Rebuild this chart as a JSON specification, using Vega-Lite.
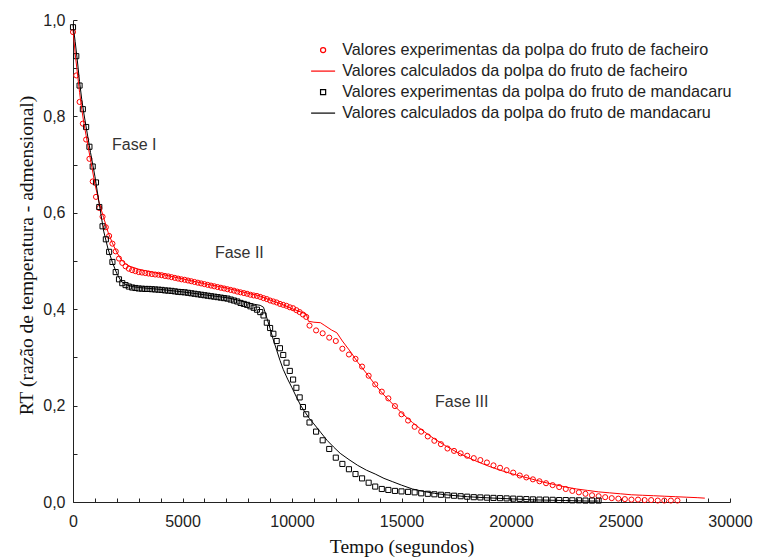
{
  "$schema": "https://vega.github.io/schema/vega-lite/v6.json",
  "width": 657,
  "height": 482,
  "autosize": {"type": "none"},
  "padding": {"left": 73, "top": 20, "right": 27, "bottom": 57},
  "background": "white",
  "config": {
    "view": {"stroke": null},
    "axis": {
      "grid": false,
      "domainColor": "#222",
      "domainWidth": 1,
      "tickColor": "#222",
      "tickSize": -4,
      "tickWidth": 1,
      "labelFont": "Liberation Sans",
      "labelFontSize": 16,
      "labelColor": "#222",
      "labelOverlap": false,
      "labelFlush": false,
      "titleFont": "Liberation Serif",
      "titleFontSize": 19.5,
      "titleFontWeight": "normal",
      "titleColor": "#111"
    },
    "legend": {
      "labelFont": "Liberation Sans",
      "labelFontSize": 16.2,
      "labelColor": "#222",
      "labelLimit": 0
    }
  },
  "datasets": {
    "curvas": [
      {"s": "fe", "t": 0, "rt": 0.975}, {"s": "fe", "t": 150, "rt": 0.885}, {"s": "fe", "t": 300, "rt": 0.83}, {"s": "fe", "t": 450, "rt": 0.785},
      {"s": "fe", "t": 600, "rt": 0.752}, {"s": "fe", "t": 750, "rt": 0.712}, {"s": "fe", "t": 900, "rt": 0.665}, {"s": "fe", "t": 1050, "rt": 0.633},
      {"s": "fe", "t": 1200, "rt": 0.61}, {"s": "fe", "t": 1350, "rt": 0.592}, {"s": "fe", "t": 1500, "rt": 0.57}, {"s": "fe", "t": 1650, "rt": 0.552},
      {"s": "fe", "t": 1800, "rt": 0.536}, {"s": "fe", "t": 1950, "rt": 0.52}, {"s": "fe", "t": 2100, "rt": 0.505}, {"s": "fe", "t": 2250, "rt": 0.496},
      {"s": "fe", "t": 2400, "rt": 0.489}, {"s": "fe", "t": 2550, "rt": 0.484}, {"s": "fe", "t": 2700, "rt": 0.481}, {"s": "fe", "t": 2850, "rt": 0.479},
      {"s": "fe", "t": 3000, "rt": 0.477}, {"s": "fe", "t": 3150, "rt": 0.476}, {"s": "fe", "t": 3300, "rt": 0.475}, {"s": "fe", "t": 3450, "rt": 0.474},
      {"s": "fe", "t": 3600, "rt": 0.473}, {"s": "fe", "t": 3750, "rt": 0.472}, {"s": "fe", "t": 3900, "rt": 0.4715}, {"s": "fe", "t": 4050, "rt": 0.4705},
      {"s": "fe", "t": 4200, "rt": 0.469}, {"s": "fe", "t": 4350, "rt": 0.468}, {"s": "fe", "t": 4500, "rt": 0.4665}, {"s": "fe", "t": 4650, "rt": 0.465},
      {"s": "fe", "t": 4800, "rt": 0.4635}, {"s": "fe", "t": 4950, "rt": 0.462}, {"s": "fe", "t": 5100, "rt": 0.461}, {"s": "fe", "t": 5250, "rt": 0.4595},
      {"s": "fe", "t": 5400, "rt": 0.458}, {"s": "fe", "t": 5550, "rt": 0.4565}, {"s": "fe", "t": 5700, "rt": 0.455}, {"s": "fe", "t": 5850, "rt": 0.4535},
      {"s": "fe", "t": 6000, "rt": 0.452}, {"s": "fe", "t": 6150, "rt": 0.4505}, {"s": "fe", "t": 6300, "rt": 0.449}, {"s": "fe", "t": 6450, "rt": 0.4475},
      {"s": "fe", "t": 6600, "rt": 0.446}, {"s": "fe", "t": 6750, "rt": 0.4445}, {"s": "fe", "t": 6900, "rt": 0.443}, {"s": "fe", "t": 7050, "rt": 0.4415},
      {"s": "fe", "t": 7200, "rt": 0.44}, {"s": "fe", "t": 7350, "rt": 0.4385}, {"s": "fe", "t": 7500, "rt": 0.4365}, {"s": "fe", "t": 7650, "rt": 0.435},
      {"s": "fe", "t": 7800, "rt": 0.4335}, {"s": "fe", "t": 7950, "rt": 0.432}, {"s": "fe", "t": 8100, "rt": 0.43}, {"s": "fe", "t": 8250, "rt": 0.4285},
      {"s": "fe", "t": 8400, "rt": 0.4275}, {"s": "fe", "t": 8550, "rt": 0.4255}, {"s": "fe", "t": 8700, "rt": 0.423}, {"s": "fe", "t": 8850, "rt": 0.421},
      {"s": "fe", "t": 9000, "rt": 0.418}, {"s": "fe", "t": 9150, "rt": 0.416}, {"s": "fe", "t": 9300, "rt": 0.414}, {"s": "fe", "t": 9450, "rt": 0.411},
      {"s": "fe", "t": 9600, "rt": 0.409}, {"s": "fe", "t": 9750, "rt": 0.407}, {"s": "fe", "t": 9900, "rt": 0.404}, {"s": "fe", "t": 10050, "rt": 0.402},
      {"s": "fe", "t": 10200, "rt": 0.398}, {"s": "fe", "t": 10350, "rt": 0.394}, {"s": "fe", "t": 10500, "rt": 0.389}, {"s": "fe", "t": 10650, "rt": 0.384},
      {"s": "fe", "t": 10800, "rt": 0.366}, {"s": "fe", "t": 11100, "rt": 0.356}, {"s": "fe", "t": 11400, "rt": 0.35}, {"s": "fe", "t": 11700, "rt": 0.341},
      {"s": "fe", "t": 12000, "rt": 0.334}, {"s": "fe", "t": 12300, "rt": 0.318}, {"s": "fe", "t": 12600, "rt": 0.306}, {"s": "fe", "t": 12900, "rt": 0.297},
      {"s": "fe", "t": 13200, "rt": 0.281}, {"s": "fe", "t": 13500, "rt": 0.262}, {"s": "fe", "t": 13800, "rt": 0.244}, {"s": "fe", "t": 14100, "rt": 0.229},
      {"s": "fe", "t": 14400, "rt": 0.215}, {"s": "fe", "t": 14700, "rt": 0.199}, {"s": "fe", "t": 15000, "rt": 0.182}, {"s": "fe", "t": 15300, "rt": 0.169},
      {"s": "fe", "t": 15600, "rt": 0.156}, {"s": "fe", "t": 15900, "rt": 0.146}, {"s": "fe", "t": 16200, "rt": 0.136}, {"s": "fe", "t": 16500, "rt": 0.127},
      {"s": "fe", "t": 16800, "rt": 0.12}, {"s": "fe", "t": 17100, "rt": 0.111}, {"s": "fe", "t": 17400, "rt": 0.106}, {"s": "fe", "t": 17700, "rt": 0.101},
      {"s": "fe", "t": 18000, "rt": 0.096}, {"s": "fe", "t": 18300, "rt": 0.091}, {"s": "fe", "t": 18600, "rt": 0.087}, {"s": "fe", "t": 18900, "rt": 0.082},
      {"s": "fe", "t": 19200, "rt": 0.076}, {"s": "fe", "t": 19500, "rt": 0.071}, {"s": "fe", "t": 19800, "rt": 0.066}, {"s": "fe", "t": 20100, "rt": 0.061},
      {"s": "fe", "t": 20400, "rt": 0.055}, {"s": "fe", "t": 20700, "rt": 0.051}, {"s": "fe", "t": 21000, "rt": 0.047}, {"s": "fe", "t": 21300, "rt": 0.043},
      {"s": "fe", "t": 21600, "rt": 0.039}, {"s": "fe", "t": 21900, "rt": 0.035}, {"s": "fe", "t": 22200, "rt": 0.031}, {"s": "fe", "t": 22500, "rt": 0.027},
      {"s": "fe", "t": 22800, "rt": 0.023}, {"s": "fe", "t": 23100, "rt": 0.02}, {"s": "fe", "t": 23400, "rt": 0.017}, {"s": "fe", "t": 23700, "rt": 0.014},
      {"s": "fe", "t": 24000, "rt": 0.012}, {"s": "fe", "t": 24300, "rt": 0.01}, {"s": "fe", "t": 24600, "rt": 0.008}, {"s": "fe", "t": 24900, "rt": 0.007},
      {"s": "fe", "t": 25200, "rt": 0.006}, {"s": "fe", "t": 25500, "rt": 0.005}, {"s": "fe", "t": 25800, "rt": 0.005}, {"s": "fe", "t": 26100, "rt": 0.004},
      {"s": "fe", "t": 26400, "rt": 0.004}, {"s": "fe", "t": 26700, "rt": 0.003}, {"s": "fe", "t": 27000, "rt": 0.003}, {"s": "fe", "t": 27300, "rt": 0.003},
      {"s": "fe", "t": 27600, "rt": 0.003},

      {"s": "fc", "t": 0, "rt": 0.98}, {"s": "fc", "t": 100, "rt": 0.93}, {"s": "fc", "t": 200, "rt": 0.89}, {"s": "fc", "t": 300, "rt": 0.85},
      {"s": "fc", "t": 400, "rt": 0.815}, {"s": "fc", "t": 500, "rt": 0.785}, {"s": "fc", "t": 600, "rt": 0.76}, {"s": "fc", "t": 800, "rt": 0.71},
      {"s": "fc", "t": 1000, "rt": 0.66}, {"s": "fc", "t": 1200, "rt": 0.62}, {"s": "fc", "t": 1400, "rt": 0.59}, {"s": "fc", "t": 1600, "rt": 0.56},
      {"s": "fc", "t": 1800, "rt": 0.537}, {"s": "fc", "t": 2000, "rt": 0.518}, {"s": "fc", "t": 2200, "rt": 0.503}, {"s": "fc", "t": 2400, "rt": 0.494},
      {"s": "fc", "t": 2600, "rt": 0.489}, {"s": "fc", "t": 3000, "rt": 0.483}, {"s": "fc", "t": 4000, "rt": 0.473}, {"s": "fc", "t": 5000, "rt": 0.463},
      {"s": "fc", "t": 6000, "rt": 0.453}, {"s": "fc", "t": 7000, "rt": 0.444}, {"s": "fc", "t": 8000, "rt": 0.433}, {"s": "fc", "t": 8500, "rt": 0.428},
      {"s": "fc", "t": 9000, "rt": 0.419}, {"s": "fc", "t": 9500, "rt": 0.411}, {"s": "fc", "t": 10000, "rt": 0.401}, {"s": "fc", "t": 10300, "rt": 0.396},
      {"s": "fc", "t": 10650, "rt": 0.39}, {"s": "fc", "t": 10750, "rt": 0.375}, {"s": "fc", "t": 11000, "rt": 0.373}, {"s": "fc", "t": 11300, "rt": 0.372},
      {"s": "fc", "t": 11500, "rt": 0.366}, {"s": "fc", "t": 11800, "rt": 0.357}, {"s": "fc", "t": 12050, "rt": 0.351}, {"s": "fc", "t": 12300, "rt": 0.334},
      {"s": "fc", "t": 12700, "rt": 0.31}, {"s": "fc", "t": 13000, "rt": 0.29}, {"s": "fc", "t": 13400, "rt": 0.267}, {"s": "fc", "t": 13800, "rt": 0.243},
      {"s": "fc", "t": 14200, "rt": 0.222}, {"s": "fc", "t": 14600, "rt": 0.203}, {"s": "fc", "t": 15000, "rt": 0.185}, {"s": "fc", "t": 15500, "rt": 0.165},
      {"s": "fc", "t": 16000, "rt": 0.147}, {"s": "fc", "t": 16500, "rt": 0.131}, {"s": "fc", "t": 17000, "rt": 0.117}, {"s": "fc", "t": 17500, "rt": 0.104},
      {"s": "fc", "t": 18000, "rt": 0.093}, {"s": "fc", "t": 18500, "rt": 0.083}, {"s": "fc", "t": 19000, "rt": 0.074}, {"s": "fc", "t": 19500, "rt": 0.066},
      {"s": "fc", "t": 20000, "rt": 0.059}, {"s": "fc", "t": 20500, "rt": 0.053}, {"s": "fc", "t": 21000, "rt": 0.047}, {"s": "fc", "t": 21500, "rt": 0.041},
      {"s": "fc", "t": 22000, "rt": 0.036}, {"s": "fc", "t": 22500, "rt": 0.031}, {"s": "fc", "t": 23000, "rt": 0.027}, {"s": "fc", "t": 23500, "rt": 0.024},
      {"s": "fc", "t": 24000, "rt": 0.021}, {"s": "fc", "t": 24500, "rt": 0.019}, {"s": "fc", "t": 25000, "rt": 0.017}, {"s": "fc", "t": 25500, "rt": 0.015},
      {"s": "fc", "t": 26000, "rt": 0.014}, {"s": "fc", "t": 26500, "rt": 0.013}, {"s": "fc", "t": 27000, "rt": 0.012}, {"s": "fc", "t": 27500, "rt": 0.011},
      {"s": "fc", "t": 28000, "rt": 0.01}, {"s": "fc", "t": 28500, "rt": 0.009}, {"s": "fc", "t": 28850, "rt": 0.008},

      {"s": "me", "t": 0, "rt": 0.985}, {"s": "me", "t": 150, "rt": 0.925}, {"s": "me", "t": 300, "rt": 0.864}, {"s": "me", "t": 450, "rt": 0.815},
      {"s": "me", "t": 600, "rt": 0.778}, {"s": "me", "t": 750, "rt": 0.737}, {"s": "me", "t": 900, "rt": 0.696}, {"s": "me", "t": 1050, "rt": 0.663},
      {"s": "me", "t": 1200, "rt": 0.612}, {"s": "me", "t": 1350, "rt": 0.572}, {"s": "me", "t": 1500, "rt": 0.545}, {"s": "me", "t": 1650, "rt": 0.519},
      {"s": "me", "t": 1800, "rt": 0.498}, {"s": "me", "t": 1950, "rt": 0.477}, {"s": "me", "t": 2100, "rt": 0.462}, {"s": "me", "t": 2250, "rt": 0.454},
      {"s": "me", "t": 2400, "rt": 0.45}, {"s": "me", "t": 2550, "rt": 0.447}, {"s": "me", "t": 2700, "rt": 0.445}, {"s": "me", "t": 2850, "rt": 0.444},
      {"s": "me", "t": 3000, "rt": 0.443}, {"s": "me", "t": 3150, "rt": 0.4425}, {"s": "me", "t": 3300, "rt": 0.442}, {"s": "me", "t": 3450, "rt": 0.442},
      {"s": "me", "t": 3600, "rt": 0.4415}, {"s": "me", "t": 3750, "rt": 0.441}, {"s": "me", "t": 3900, "rt": 0.4405}, {"s": "me", "t": 4050, "rt": 0.44},
      {"s": "me", "t": 4200, "rt": 0.439}, {"s": "me", "t": 4350, "rt": 0.4385}, {"s": "me", "t": 4500, "rt": 0.438}, {"s": "me", "t": 4650, "rt": 0.437},
      {"s": "me", "t": 4800, "rt": 0.436}, {"s": "me", "t": 4950, "rt": 0.4355}, {"s": "me", "t": 5100, "rt": 0.435}, {"s": "me", "t": 5250, "rt": 0.434},
      {"s": "me", "t": 5400, "rt": 0.433}, {"s": "me", "t": 5550, "rt": 0.432}, {"s": "me", "t": 5700, "rt": 0.431}, {"s": "me", "t": 5850, "rt": 0.43},
      {"s": "me", "t": 6000, "rt": 0.429}, {"s": "me", "t": 6150, "rt": 0.428}, {"s": "me", "t": 6300, "rt": 0.427}, {"s": "me", "t": 6450, "rt": 0.426},
      {"s": "me", "t": 6600, "rt": 0.425}, {"s": "me", "t": 6750, "rt": 0.424}, {"s": "me", "t": 6900, "rt": 0.423}, {"s": "me", "t": 7050, "rt": 0.422},
      {"s": "me", "t": 7200, "rt": 0.42}, {"s": "me", "t": 7350, "rt": 0.418}, {"s": "me", "t": 7500, "rt": 0.416}, {"s": "me", "t": 7650, "rt": 0.413},
      {"s": "me", "t": 7800, "rt": 0.411}, {"s": "me", "t": 7950, "rt": 0.409}, {"s": "me", "t": 8100, "rt": 0.406}, {"s": "me", "t": 8250, "rt": 0.403},
      {"s": "me", "t": 8400, "rt": 0.399}, {"s": "me", "t": 8550, "rt": 0.394}, {"s": "me", "t": 8700, "rt": 0.387}, {"s": "me", "t": 8850, "rt": 0.372},
      {"s": "me", "t": 9000, "rt": 0.361}, {"s": "me", "t": 9150, "rt": 0.349}, {"s": "me", "t": 9300, "rt": 0.334}, {"s": "me", "t": 9450, "rt": 0.319},
      {"s": "me", "t": 9600, "rt": 0.305}, {"s": "me", "t": 9750, "rt": 0.289}, {"s": "me", "t": 9900, "rt": 0.272}, {"s": "me", "t": 10050, "rt": 0.254},
      {"s": "me", "t": 10200, "rt": 0.237}, {"s": "me", "t": 10350, "rt": 0.217}, {"s": "me", "t": 10500, "rt": 0.197}, {"s": "me", "t": 10650, "rt": 0.182},
      {"s": "me", "t": 10800, "rt": 0.165}, {"s": "me", "t": 11100, "rt": 0.146}, {"s": "me", "t": 11400, "rt": 0.128}, {"s": "me", "t": 11700, "rt": 0.11},
      {"s": "me", "t": 12000, "rt": 0.092}, {"s": "me", "t": 12300, "rt": 0.079}, {"s": "me", "t": 12600, "rt": 0.068}, {"s": "me", "t": 12900, "rt": 0.058},
      {"s": "me", "t": 13200, "rt": 0.049}, {"s": "me", "t": 13500, "rt": 0.04}, {"s": "me", "t": 13800, "rt": 0.032}, {"s": "me", "t": 14100, "rt": 0.027},
      {"s": "me", "t": 14400, "rt": 0.025}, {"s": "me", "t": 14700, "rt": 0.023}, {"s": "me", "t": 15000, "rt": 0.022}, {"s": "me", "t": 15300, "rt": 0.021},
      {"s": "me", "t": 15600, "rt": 0.02}, {"s": "me", "t": 15900, "rt": 0.018}, {"s": "me", "t": 16200, "rt": 0.017}, {"s": "me", "t": 16500, "rt": 0.016},
      {"s": "me", "t": 16800, "rt": 0.015}, {"s": "me", "t": 17100, "rt": 0.014}, {"s": "me", "t": 17400, "rt": 0.013}, {"s": "me", "t": 17700, "rt": 0.012},
      {"s": "me", "t": 18000, "rt": 0.011}, {"s": "me", "t": 18300, "rt": 0.01}, {"s": "me", "t": 18600, "rt": 0.0095}, {"s": "me", "t": 18900, "rt": 0.009},
      {"s": "me", "t": 19200, "rt": 0.0085}, {"s": "me", "t": 19500, "rt": 0.008}, {"s": "me", "t": 19800, "rt": 0.0075}, {"s": "me", "t": 20100, "rt": 0.007},
      {"s": "me", "t": 20400, "rt": 0.0065}, {"s": "me", "t": 20700, "rt": 0.006}, {"s": "me", "t": 21000, "rt": 0.0055}, {"s": "me", "t": 21300, "rt": 0.005},
      {"s": "me", "t": 21600, "rt": 0.005}, {"s": "me", "t": 21900, "rt": 0.0045}, {"s": "me", "t": 22200, "rt": 0.004}, {"s": "me", "t": 22500, "rt": 0.004},
      {"s": "me", "t": 22800, "rt": 0.0035}, {"s": "me", "t": 23100, "rt": 0.0035}, {"s": "me", "t": 23400, "rt": 0.003}, {"s": "me", "t": 23700, "rt": 0.003},
      {"s": "me", "t": 24000, "rt": 0.003},

      {"s": "mc", "t": 0, "rt": 0.99}, {"s": "mc", "t": 100, "rt": 0.955}, {"s": "mc", "t": 200, "rt": 0.915}, {"s": "mc", "t": 300, "rt": 0.872},
      {"s": "mc", "t": 400, "rt": 0.835}, {"s": "mc", "t": 500, "rt": 0.805}, {"s": "mc", "t": 600, "rt": 0.778}, {"s": "mc", "t": 800, "rt": 0.725},
      {"s": "mc", "t": 1000, "rt": 0.676}, {"s": "mc", "t": 1200, "rt": 0.618}, {"s": "mc", "t": 1400, "rt": 0.562}, {"s": "mc", "t": 1600, "rt": 0.525},
      {"s": "mc", "t": 1800, "rt": 0.497}, {"s": "mc", "t": 2000, "rt": 0.474}, {"s": "mc", "t": 2200, "rt": 0.458}, {"s": "mc", "t": 2400, "rt": 0.451},
      {"s": "mc", "t": 2700, "rt": 0.447}, {"s": "mc", "t": 3000, "rt": 0.445}, {"s": "mc", "t": 4000, "rt": 0.441}, {"s": "mc", "t": 5000, "rt": 0.436},
      {"s": "mc", "t": 6000, "rt": 0.43}, {"s": "mc", "t": 7000, "rt": 0.424}, {"s": "mc", "t": 7500, "rt": 0.419}, {"s": "mc", "t": 8000, "rt": 0.413},
      {"s": "mc", "t": 8300, "rt": 0.41}, {"s": "mc", "t": 8550, "rt": 0.408}, {"s": "mc", "t": 8700, "rt": 0.404}, {"s": "mc", "t": 8850, "rt": 0.382},
      {"s": "mc", "t": 9000, "rt": 0.36}, {"s": "mc", "t": 9150, "rt": 0.336}, {"s": "mc", "t": 9300, "rt": 0.315}, {"s": "mc", "t": 9450, "rt": 0.294},
      {"s": "mc", "t": 9600, "rt": 0.275}, {"s": "mc", "t": 9800, "rt": 0.255}, {"s": "mc", "t": 10000, "rt": 0.237}, {"s": "mc", "t": 10200, "rt": 0.218},
      {"s": "mc", "t": 10400, "rt": 0.2}, {"s": "mc", "t": 10600, "rt": 0.186}, {"s": "mc", "t": 10800, "rt": 0.173}, {"s": "mc", "t": 11000, "rt": 0.162},
      {"s": "mc", "t": 11300, "rt": 0.145}, {"s": "mc", "t": 11600, "rt": 0.128}, {"s": "mc", "t": 11900, "rt": 0.114}, {"s": "mc", "t": 12200, "rt": 0.101},
      {"s": "mc", "t": 12600, "rt": 0.088}, {"s": "mc", "t": 13000, "rt": 0.076}, {"s": "mc", "t": 13400, "rt": 0.066}, {"s": "mc", "t": 13800, "rt": 0.058},
      {"s": "mc", "t": 14200, "rt": 0.049}, {"s": "mc", "t": 14600, "rt": 0.042}, {"s": "mc", "t": 15000, "rt": 0.035}, {"s": "mc", "t": 15500, "rt": 0.027},
      {"s": "mc", "t": 16000, "rt": 0.022}, {"s": "mc", "t": 16500, "rt": 0.018}, {"s": "mc", "t": 17000, "rt": 0.015}, {"s": "mc", "t": 17500, "rt": 0.013},
      {"s": "mc", "t": 18000, "rt": 0.011}, {"s": "mc", "t": 18500, "rt": 0.0097}, {"s": "mc", "t": 19000, "rt": 0.0085}, {"s": "mc", "t": 19500, "rt": 0.0075},
      {"s": "mc", "t": 20000, "rt": 0.0065}, {"s": "mc", "t": 20500, "rt": 0.0055}, {"s": "mc", "t": 21000, "rt": 0.0045}, {"s": "mc", "t": 21500, "rt": 0.004},
      {"s": "mc", "t": 22000, "rt": 0.0035}, {"s": "mc", "t": 22500, "rt": 0.003}, {"s": "mc", "t": 23000, "rt": 0.0025}, {"s": "mc", "t": 23500, "rt": 0.002},
      {"s": "mc", "t": 24000, "rt": 0.002}
    ],
    "fases": [
      {"t": 1780, "rt": 0.741, "nome": "Fase I"},
      {"t": 6480, "rt": 0.516, "nome": "Fase II"},
      {"t": 16530, "rt": 0.208, "nome": "Fase III"}
    ]
  },
  "encoding": {
    "x": {
      "field": "t",
      "type": "quantitative",
      "scale": {"domain": [0, 30000], "nice": false},
      "axis": {
        "title": "Tempo (segundos)",
        "values": [0, 1000, 2000, 3000, 4000, 5000, 6000, 7000, 8000, 9000, 10000, 11000, 12000, 13000, 14000, 15000, 16000, 17000, 18000, 19000, 20000, 21000, 22000, 23000, 24000, 25000, 26000, 27000, 28000, 29000, 30000],
        "labelExpr": "datum.value % 5000 === 0 ? format(datum.value, 'd') : ''",
        "labelPadding": 15,
        "titlePadding": 8
      }
    },
    "y": {
      "field": "rt",
      "type": "quantitative",
      "scale": {"domain": [0, 1], "nice": false},
      "axis": {
        "title": "RT (razão de temperatura - admensional)",
        "values": [0, 0.1, 0.2, 0.3, 0.4, 0.5, 0.6, 0.7, 0.8, 0.9, 1],
        "labelExpr": "round(datum.value * 10) % 2 === 0 ? replace(format(datum.value, '.1f'), '.', ',') : ''",
        "labelPadding": 12,
        "titlePadding": 6,
        "titleY": 235
      }
    }
  },
  "layer": [
    {
      "data": {"name": "curvas"},
      "transform": [{"filter": "datum.s === 'fe' || datum.s === 'me'"}],
      "mark": {"type": "point", "filled": false, "strokeWidth": 1, "opacity": 1},
      "encoding": {
        "color": {
          "field": "s",
          "type": "nominal",
          "scale": {"domain": ["fe", "fc", "me", "mc"], "range": ["#ff0000", "#ff0000", "#000000", "#000000"]},
          "legend": {
            "title": null,
            "orient": "none",
            "legendX": 242,
            "legendY": 22,
            "padding": 0,
            "rowPadding": 4,
            "labelOffset": 11,
            "symbolStrokeWidth": 1.2,
            "labelExpr": "datum.label === 'fe' ? 'Valores experimentas da polpa do fruto de facheiro' : datum.label === 'fc' ? 'Valores calculados da polpa do fruto de facheiro' : datum.label === 'me' ? 'Valores experimentas da polpa do fruto de mandacaru' : 'Valores calculados da polpa do fruto de mandacaru'"
          }
        },
        "shape": {
          "field": "s",
          "type": "nominal",
          "scale": {"domain": ["fe", "fc", "me", "mc"], "range": ["circle", "M-3,0H3", "square", "M-3,0H3"]}
        },
        "size": {
          "field": "s",
          "type": "nominal",
          "scale": {"type": "ordinal", "domain": ["fe", "fc", "me", "mc"], "range": [26, 64, 26, 64]}
        }
      }
    },
    {
      "data": {"name": "curvas"},
      "transform": [{"filter": "datum.s === 'fc' || datum.s === 'mc'"}],
      "mark": {"type": "line", "strokeWidth": 1, "interpolate": "linear"},
      "encoding": {
        "color": {"field": "s", "type": "nominal"},
        "detail": {"field": "s"}
      }
    },
    {
      "data": {"name": "fases"},
      "mark": {"type": "text", "align": "left", "baseline": "middle", "font": "Liberation Sans", "fontSize": 16, "color": "#333"},
      "encoding": {
        "text": {"field": "nome"}
      }
    }
  ]
}
